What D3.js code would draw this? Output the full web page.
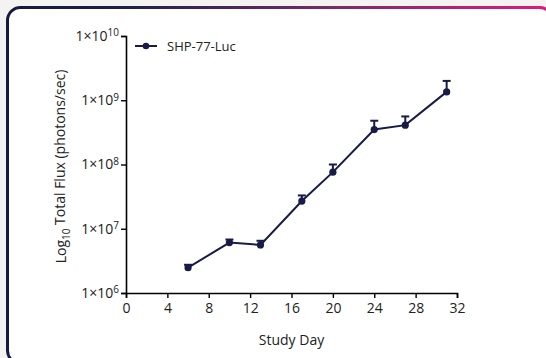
<!DOCTYPE html>
<html>
<head>
<meta charset="utf-8">
<script src="https://cdn.jsdelivr.net/npm/d3@7"></script>
<style>
  html, body { margin: 0; padding: 0; background: #f4f3f1; }
  svg { display: block; font-family: "Open Sans", "Liberation Sans", sans-serif; }
</style>
</head>
<body>
<div id="chart"></div>
<script>
const days = [6, 10, 13, 17, 20, 24, 27, 31];
const flux = [2.48e6, 6.1e6, 5.6e6, 2.7e7, 7.6e7, 3.5e8, 4.1e8, 1.35e9];
const fluxUpper = [2.75e6, 6.8e6, 6.5e6, 3.3e7, 1.0e8, 4.8e8, 5.6e8, 2.0e9];
const xTicks = [0, 4, 8, 12, 16, 20, 24, 28, 32];
const yExponents = [6, 7, 8, 9, 10];
const seriesName = "SHP-77-Luc";

const width = 546;
const height = 358;
const margin = { top: 36, right: 89, bottom: 65, left: 126 };
const navy = "#171b45";

const svg = d3.select("#chart").append("svg")
  .attr("width", width)
  .attr("height", height);

const defs = svg.append("defs");
const grad = defs.append("linearGradient")
  .attr("id", "frameGrad")
  .attr("x1", "0").attr("x2", "1").attr("y1", "0").attr("y2", "0");
grad.append("stop").attr("offset", "0%").attr("stop-color", "#141a40");
grad.append("stop").attr("offset", "20%").attr("stop-color", "#1c1f4a");
grad.append("stop").attr("offset", "60%").attr("stop-color", "#7a2a6a");
grad.append("stop").attr("offset", "100%").attr("stop-color", "#e2197e");

// frame
svg.append("rect")
  .attr("x", 7.5).attr("y", 7.5)
  .attr("width", 545).attr("height", 356)
  .attr("rx", 13).attr("ry", 13)
  .attr("fill", "#ffffff")
  .attr("stroke", "url(#frameGrad)")
  .attr("stroke-width", 3);

const x = d3.scaleLinear()
  .domain([0, 32])
  .range([margin.left, width - margin.right]);

const y = d3.scaleLog()
  .domain([1e6, 1e10])
  .range([height - margin.bottom, margin.top]);

// x axis
const xAxis = svg.append("g")
  .attr("transform", `translate(0, ${height - margin.bottom})`)
  .call(d3.axisBottom(x).tickValues(xTicks).tickSize(5).tickSizeOuter(5).tickPadding(5));
xAxis.attr("font-family", null);
xAxis.select(".domain").attr("stroke", "#000").attr("stroke-width", 1.6);
xAxis.selectAll(".tick line").attr("stroke", "#000").attr("stroke-width", 1.4);
xAxis.selectAll(".tick text").attr("font-size", 14).attr("fill", "#222");

// y axis
const yAxis = svg.append("g")
  .attr("transform", `translate(${margin.left}, 0)`)
  .call(d3.axisLeft(y).tickValues(yExponents.map(e => Math.pow(10, e))).tickSize(5).tickSizeOuter(5).tickFormat(""));
yAxis.attr("font-family", null);
yAxis.select(".domain").attr("stroke", "#000").attr("stroke-width", 1.6);
yAxis.selectAll(".tick line").attr("stroke", "#000").attr("stroke-width", 1.4);

const yLabels = yAxis.selectAll(".tick")
  .append("text")
  .attr("x", -7)
  .attr("dy", "0.32em")
  .attr("text-anchor", "end")
  .attr("font-size", 14)
  .attr("fill", "#222");
yLabels.each(function(d) {
  const e = Math.round(Math.log10(d));
  const t = d3.select(this);
  t.append("tspan").text("1\u00d710");
  t.append("tspan").attr("dy", "-0.45em").attr("font-size", 10).text(e);
});

// axis titles
svg.append("text")
  .attr("x", x(16))
  .attr("y", 345)
  .attr("text-anchor", "middle")
  .attr("font-size", 14)
  .attr("fill", "#222")
  .text("Study  Day");

const yTitle = svg.append("text")
  .attr("transform", `translate(66, ${(margin.top + height - margin.bottom) / 2 + 2}) rotate(-90)`)
  .attr("text-anchor", "middle")
  .attr("font-size", 14)
  .attr("fill", "#222");
yTitle.append("tspan").text("Log");
yTitle.append("tspan").attr("dy", "0.35em").attr("font-size", 10).text("10");
yTitle.append("tspan").attr("dy", "-0.35em").text(" Total Flux (photons/sec)");

// data
const points = days.map((d, i) => ({ day: d, value: flux[i], upper: fluxUpper[i] }));

const errG = svg.append("g").attr("stroke", navy).attr("stroke-width", 2);
points.forEach(p => {
  errG.append("line")
    .attr("x1", x(p.day)).attr("x2", x(p.day))
    .attr("y1", y(p.value)).attr("y2", y(p.upper));
  errG.append("line")
    .attr("x1", x(p.day) - 4).attr("x2", x(p.day) + 4)
    .attr("y1", y(p.upper)).attr("y2", y(p.upper));
});

svg.append("path")
  .datum(points)
  .attr("fill", "none")
  .attr("stroke", navy)
  .attr("stroke-width", 2)
  .attr("d", d3.line().x(d => x(d.day)).y(d => y(d.value)));

svg.append("g")
  .selectAll("circle")
  .data(points)
  .join("circle")
  .attr("cx", d => x(d.day))
  .attr("cy", d => y(d.value))
  .attr("r", 3.6)
  .attr("fill", navy);

// legend
const legend = svg.append("g").attr("transform", "translate(135, 46)");
legend.append("line")
  .attr("x1", 0).attr("x2", 22)
  .attr("stroke", navy).attr("stroke-width", 2);
legend.append("circle").attr("cx", 11).attr("r", 3.3).attr("fill", navy);
legend.append("text")
  .attr("x", 32).attr("dy", "0.35em")
  .attr("font-size", 13)
  .attr("fill", "#222")
  .text(seriesName);
</script>
</body>
</html>
